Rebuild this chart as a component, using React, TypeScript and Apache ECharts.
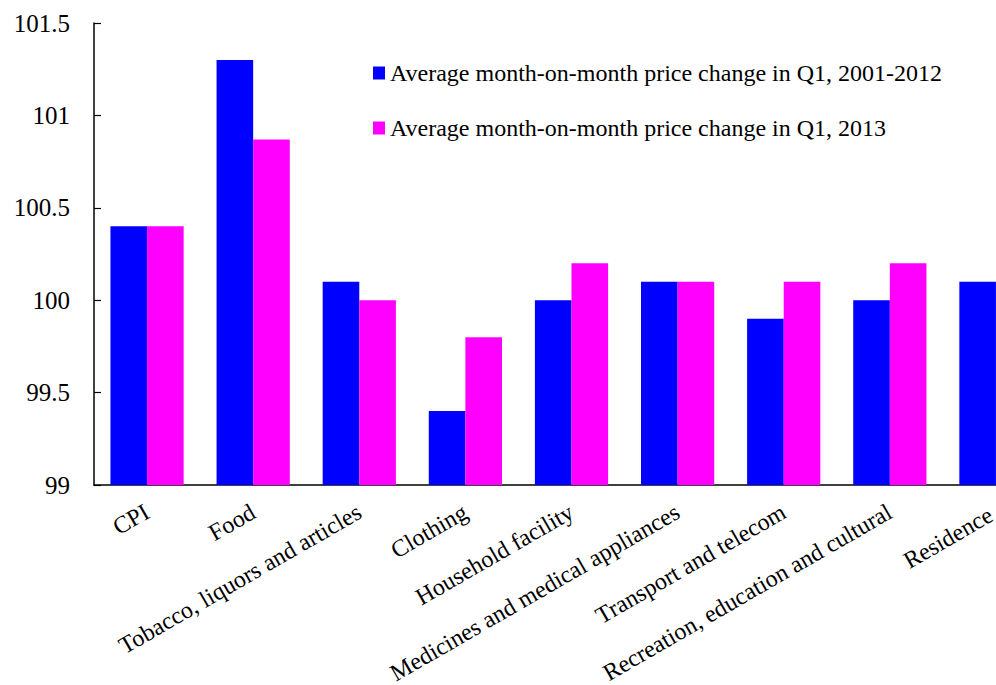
import React, { useEffect, useRef } from "react";
import * as echarts from "echarts";

// CPI components: average month-on-month price index in the first quarter
const categories = [
  "CPI",
  "Food",
  "Tobacco, liquors and articles",
  "Clothing",
  "Household facility",
  "Medicines and medical appliances",
  "Transport and telecom",
  "Recreation, education and cultural",
  "Residence",
];

const seriesNames = [
  "Average month-on-month price change in Q1, 2001-2012",
  "Average month-on-month price change in Q1, 2013",
];

const avg2001to2012 = [100.4, 101.3, 100.1, 99.4, 100.0, 100.1, 99.9, 100.0, 100.1];
const q1of2013 = [100.4, 100.87, 100.0, 99.8, 100.2, 100.1, 100.1, 100.2, null];

const colors = ["#0000FF", "#FF00FF"];
const FONT = "Liberation Serif";

export default function App() {
  const ref = useRef<HTMLDivElement>(null);

  useEffect(() => {
    if (!ref.current) return;
    const chart = echarts.init(ref.current, undefined, { renderer: "svg" });

    // the last label sits at the right edge, so nudge it back inside
    const categoryData = categories.map((name, i) =>
      i === categories.length - 1
        ? { value: name, textStyle: { padding: [0, 6, 0, 0] } }
        : name
    );

    chart.setOption({
      animation: false,
      backgroundColor: "#ffffff",
      textStyle: { fontFamily: FONT },
      // the plot runs past the right edge of the canvas, so its width is fixed
      grid: {
        left: 94,
        top: 23,
        height: 462,
        width: 955,
        containLabel: false,
        outerBoundsMode: "none",
      },
      legend: {
        orient: "vertical",
        left: 373,
        top: 60,
        padding: 0,
        itemWidth: 12,
        itemHeight: 13,
        itemGap: 29,
        icon: "rect",
        textStyle: { fontFamily: FONT, fontSize: 24, color: "#000", lineHeight: 26 },
        data: seriesNames,
      },
      xAxis: {
        type: "category",
        data: categoryData,
        axisLine: { lineStyle: { color: "#000", width: 1.5 } },
        axisTick: { inside: true, length: 6, lineStyle: { color: "#000", width: 1.2 } },
        axisLabel: {
          rotate: 30,
          interval: 0,
          margin: 25,
          fontFamily: FONT,
          fontSize: 24,
          color: "#000",
        },
      },
      yAxis: {
        type: "value",
        min: 99,
        max: 101.5,
        interval: 0.5,
        splitLine: { show: false },
        axisLine: { show: true, lineStyle: { color: "#000", width: 1.5 } },
        axisTick: { show: true, inside: true, length: 7, lineStyle: { color: "#000", width: 1.2 } },
        axisLabel: {
          margin: 24,
          formatter: "{v|{value}}",
          rich: { v: { fontFamily: FONT, fontSize: 25, color: "#000" } },
        },
      },
      series: [
        {
          name: seriesNames[0],
          type: "bar",
          data: avg2001to2012,
          itemStyle: { color: colors[0] },
          barGap: "0%",
          barCategoryGap: "31%",
        },
        {
          name: seriesNames[1],
          type: "bar",
          data: q1of2013,
          itemStyle: { color: colors[1] },
          barGap: "0%",
          barCategoryGap: "31%",
        },
      ],
    });
    return () => chart.dispose();
  }, []);

  return (
    <div
      ref={ref}
      style={{ position: "fixed", left: 0, top: 0, width: 996, height: 685, background: "#fff" }}
    />
  );
}
